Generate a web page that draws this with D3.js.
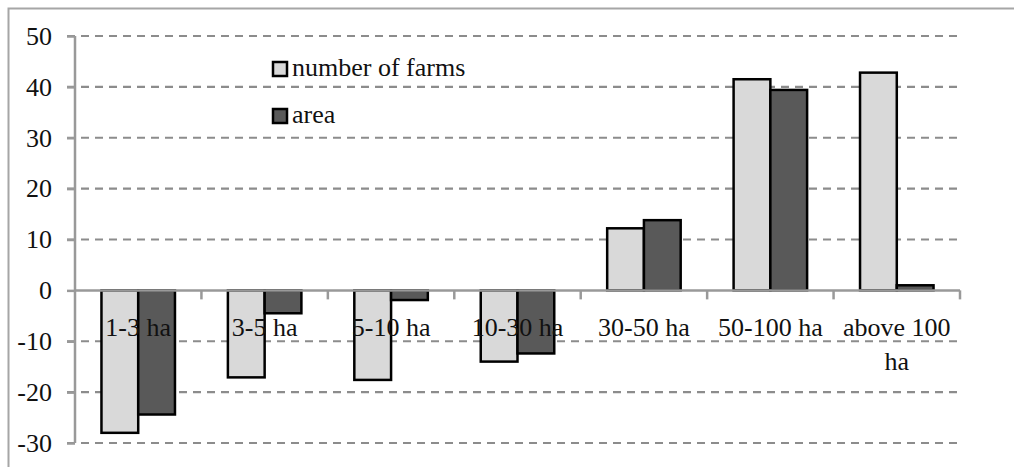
<!DOCTYPE html>
<html><head><meta charset="utf-8">
<script src="https://cdn.jsdelivr.net/npm/d3@7"></script>
</head>
<body style="margin:0">
<svg id="viz" width="1014" height="467"></svg>
<script>
const categories = ["1-3 ha","3-5 ha","5-10 ha","10-30 ha","30-50 ha","50-100 ha","above 100 ha"];
const categoryLines = [["1-3 ha"],["3-5 ha"],["5-10 ha"],["10-30 ha"],["30-50 ha"],["50-100 ha"],["above 100","ha"]];
const seriesNames = ["number of farms","area"];
const farms = [-28, -17.1, -17.6, -14.0, 12.2, 41.5, 42.8];
const area = [-24.4, -4.5, -1.9, -12.4, 13.8, 39.4, 1.0];
const yTicks = [50,40,30,20,10,0,-10,-20,-30];
const colors = ["#d9d9d9","#595959"];

const FONT = '"Liberation Serif", monospace';
const FS = 26;
if (document.fonts && document.fonts.load) { try { document.fonts.load(FS + 'px "Liberation Serif"'); } catch(e) {} }
function serif(sel){ return sel.style("font-family",FONT,"important").attr("font-size",FS).attr("fill","#111"); }

const svg = d3.select("#viz");
const x0 = 75, x1 = 960, yTop = 36, yBot = 443;

svg.append("rect").attr("x",8.5).attr("y",8.5).attr("width",1030).attr("height",480)
  .attr("fill","none").attr("stroke","#a6a6a6").attr("stroke-width",2);

const x = d3.scaleBand().domain(categories).range([x0,x1]);
const xs = d3.scaleBand().domain(seriesNames).range([0,x.bandwidth()]).paddingOuter(0.72);
const y = d3.scaleLinear().domain([-30,50]).range([yBot,yTop]);

// gridlines
svg.append("g").selectAll("line").data(yTicks.filter(d=>d!==0)).join("line")
  .attr("x1",67).attr("x2",957).attr("y1",d=>y(d)).attr("y2",d=>y(d))
  .attr("stroke","#8c8c8c").attr("stroke-width",2.2).attr("stroke-dasharray","8,6");

// y axis
const yAxis = d3.axisLeft(y).tickValues(yTicks).tickSize(8).tickPadding(15).tickFormat(d=>d<0?"-"+Math.abs(d):d);
const gy = svg.append("g").attr("transform",`translate(${x0},0)`).call(yAxis);
gy.select(".domain").attr("stroke","#999").attr("stroke-width",2.5).attr("d",`M-0,${yTop}V${yBot}`);
gy.selectAll(".tick line").attr("stroke","#999").attr("stroke-width",2.5);
serif(gy.selectAll(".tick text"));
// force style/layout early (as in the diagnostic render where the serif font appeared)
const firstTick = svg.select(".tick text").node();
void getComputedStyle(firstTick).fontFamily;

// bars
const data = categories.map((c,i)=>({c, vals:[farms[i],area[i]]}));
const groups = svg.append("g").selectAll("g").data(data).join("g")
  .attr("transform",d=>`translate(${x(d.c)},0)`);
groups.selectAll("rect").data(d=>d.vals.map((v,j)=>({v,s:seriesNames[j],j}))).join("rect")
  .attr("x",d=>xs(d.s)).attr("width",xs.bandwidth())
  .attr("y",d=>Math.min(y(d.v),y(0))).attr("height",d=>Math.abs(y(d.v)-y(0)))
  .attr("fill",d=>colors[d.j]).attr("stroke","#000").attr("stroke-width",2.5);

// x axis (zero line)
const xAxis = d3.axisBottom(x).tickSize(0).tickFormat("");
const gx = svg.append("g").attr("transform",`translate(0,${y(0)})`).call(xAxis);
gx.select(".domain").attr("stroke","#999").attr("stroke-width",2.5).attr("d",`M${x0},0H${x1}`);
gx.selectAll(".bd").data(categories).join("line").attr("class","bd")
  .attr("x1",d=>x(d)+x.bandwidth()).attr("x2",d=>x(d)+x.bandwidth())
  .attr("y1",0).attr("y2",9).attr("stroke","#999").attr("stroke-width",2.5);

// category labels (one text per line)
const labelData = [];
categories.forEach((c,i)=>categoryLines[i].forEach((ln,k)=>labelData.push({c,ln,k})));
serif(svg.append("g").selectAll("text").data(labelData).join("text")
  .attr("x",d=>x(d.c)+x.bandwidth()/2).attr("y",d=>336+d.k*34)
  .attr("text-anchor","middle").text(d=>d.ln));

// legend
const lg = svg.append("g").selectAll("g").data(seriesNames).join("g")
  .attr("transform",(d,i)=>`translate(273,${62+i*47})`);
lg.append("rect").attr("width",14).attr("height",14).attr("fill",(d,i)=>colors[i])
  .attr("stroke","#000").attr("stroke-width",2.5);
serif(lg.append("text").attr("x",19).attr("y",14).text(d=>d));

svg.selectAll("text").each(function(){ try { this.getBBox(); } catch(e) {} });
</script>
</body></html>
